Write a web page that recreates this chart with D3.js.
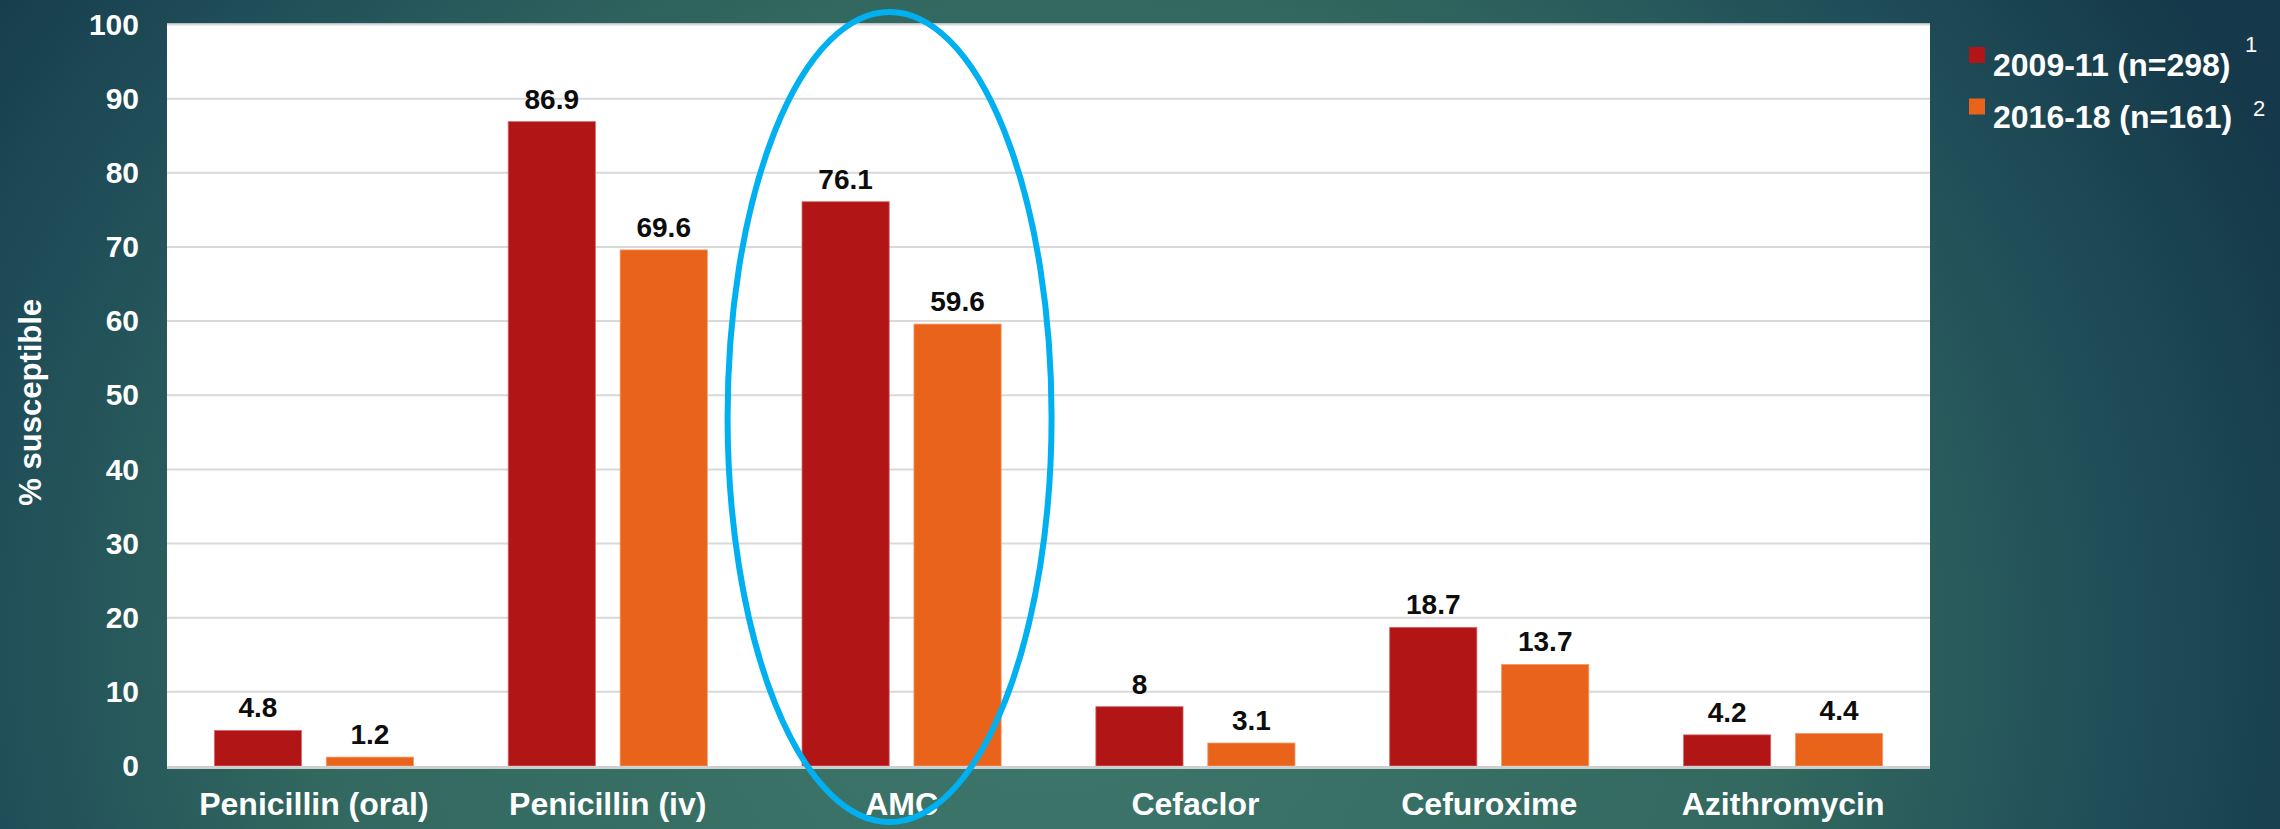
<!DOCTYPE html>
<html>
<head>
<meta charset="utf-8">
<script src="https://cdn.jsdelivr.net/npm/d3@7"></script>
<style>
  html, body { margin: 0; padding: 0; background: #1d4a55; }
  svg { display: block; }
  text { font-family: "Liberation Sans", Arial, Helvetica, sans-serif; }
</style>
</head>
<body>
<svg id="chart" width="2280" height="829"></svg>
<script>
// Antibiotic susceptibility, two surveillance periods
const categories = ["Penicillin (oral)", "Penicillin (iv)", "AMC", "Cefaclor", "Cefuroxime", "Azithromycin"];
const seriesNames = ["2009-11 (n=298)", "2016-18 (n=161)"];
const seriesRefs = ["1", "2"];
const values2009 = [4.8, 86.9, 76.1, 8, 18.7, 4.2];
const values2016 = [1.2, 69.6, 59.6, 3.1, 13.7, 4.4];
const yTicks = [0, 10, 20, 30, 40, 50, 60, 70, 80, 90, 100];
const highlighted = "AMC";

const colors = ["#b11516", "#e9641a"];
const W = 2280, H = 829;
const plot = { left: 167, right: 1930, top: 24.5, bottom: 766 };

const svg = d3.select("#chart");

// Teal backdrop, lighter toward the centre
const defs = svg.append("defs");
const bg = defs.append("radialGradient")
  .attr("id", "bg").attr("gradientUnits", "userSpaceOnUse")
  .attr("cx", 1050).attr("cy", 650).attr("r", 1350)
  .attr("gradientTransform", "translate(1050,650) scale(1,0.9) translate(-1050,-650)");
bg.append("stop").attr("offset", "0").attr("stop-color", "#3d776c");
bg.append("stop").attr("offset", "0.15").attr("stop-color", "#3b7369");
bg.append("stop").attr("offset", "0.55").attr("stop-color", "#32685f");
bg.append("stop").attr("offset", "0.8").attr("stop-color", "#1f4d58");
bg.append("stop").attr("offset", "0.95").attr("stop-color", "#173d4c");
bg.append("stop").attr("offset", "1").attr("stop-color", "#15394a");
svg.append("rect").attr("width", W).attr("height", H).attr("fill", "url(#bg)");

const x = d3.scaleBand().domain(categories).range([plot.left, plot.right]).padding(0);
const xs = d3.scaleBand().domain([0, 1]).range([0, x.bandwidth()])
  .paddingInner(0.221).paddingOuter(0.423);
const y = d3.scaleLinear().domain([0, 100]).range([plot.bottom, plot.top]);

// Plot area
svg.append("rect")
  .attr("x", plot.left).attr("y", y(100) - 1)
  .attr("width", plot.right - plot.left).attr("height", y(0) - y(100) + 2)
  .attr("fill", "#ffffff");

// Gridlines
svg.append("g").selectAll("line").data(yTicks.filter(d => d > 0)).join("line")
  .attr("x1", plot.left).attr("x2", plot.right)
  .attr("y1", d => y(d)).attr("y2", d => y(d))
  .attr("stroke", "#d9d9d9").attr("stroke-width", 2);

// Y axis labels
const yAxis = d3.axisLeft(y).tickValues(yTicks).tickSize(0).tickPadding(28);
const yg = svg.append("g").attr("transform", `translate(${plot.left},0)`).call(yAxis);
yg.select(".domain").remove();
yg.selectAll("text")
  .attr("fill", "#ffffff").attr("font-size", 30).attr("font-weight", "bold")
  .attr("font-family", "'Liberation Sans', Arial, sans-serif");

// Bars with value labels
const groups = categories.map((c, i) => ({ c, vals: [values2009[i], values2016[i]] }));
const g = svg.append("g");
groups.forEach(gr => {
  gr.vals.forEach((v, s) => {
    g.append("rect")
      .attr("x", x(gr.c) + xs(s)).attr("width", xs.bandwidth())
      .attr("y", y(v)).attr("height", y(0) - y(v))
      .attr("fill", colors[s])
      .attr("stroke", s === 0 ? "#d96a6a" : "#f39a68").attr("stroke-width", 0.8);
    g.append("text")
      .attr("x", x(gr.c) + xs(s) + xs.bandwidth() / 2)
      .attr("y", y(v) - 13)
      .attr("text-anchor", "middle")
      .attr("font-size", 28).attr("font-weight", "bold")
      .attr("fill", "#0d0d0d")
      .text(v);
  });
});

// Baseline
svg.append("line")
  .attr("x1", plot.left).attr("x2", plot.right)
  .attr("y1", y(0) + 1.5).attr("y2", y(0) + 1.5)
  .attr("stroke", "#cfcfcf").attr("stroke-width", 3);

// Category labels
const xAxis = d3.axisBottom(x).tickSize(0).tickPadding(26);
const xg = svg.append("g").attr("transform", `translate(0,${plot.bottom})`).call(xAxis);
xg.select(".domain").remove();
xg.selectAll("text")
  .attr("fill", "#ffffff").attr("font-size", 32).attr("font-weight", "bold")
  .attr("font-family", "'Liberation Sans', Arial, sans-serif");

// Y axis title
svg.append("text")
  .attr("transform", `translate(41,${(plot.top + plot.bottom) / 2 + 7}) rotate(-90)`)
  .attr("text-anchor", "middle")
  .attr("font-size", 31).attr("font-weight", "bold").attr("fill", "#ffffff")
  .text("% susceptible");

// Legend
const legend = svg.append("g").attr("transform", "translate(1969,47)");
seriesNames.forEach((name, i) => {
  const row = legend.append("g").attr("transform", `translate(0,${i * 51.5})`);
  row.append("rect").attr("width", 16).attr("height", 16).attr("fill", colors[i]);
  row.append("text")
    .attr("x", 24).attr("y", 29)
    .attr("font-size", 32).attr("font-weight", "bold").attr("fill", "#ffffff")
    .text(name);
});
legend.append("text").attr("x", 276).attr("y", 5).attr("font-size", 22)
  .attr("fill", "#ffffff").text(seriesRefs[0]);
legend.append("text").attr("x", 284).attr("y", 69).attr("font-size", 22)
  .attr("fill", "#ffffff").text(seriesRefs[1]);

// Highlight ring around the AMC group
const hx = x(highlighted) + x.bandwidth() / 2 - 12;
svg.append("ellipse")
  .attr("cx", hx).attr("cy", 417)
  .attr("rx", 162).attr("ry", 405)
  .attr("fill", "none").attr("stroke", "#00b0f0").attr("stroke-width", 6);
</script>
</body>
</html>
